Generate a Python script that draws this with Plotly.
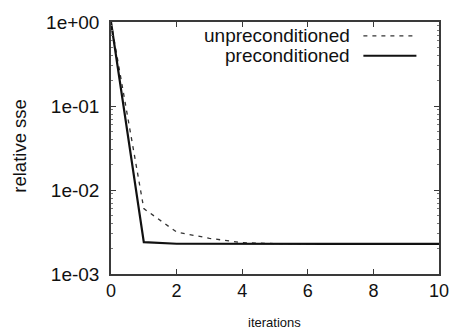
import plotly.graph_objects as go

iterations = [0, 1, 2, 3, 4, 5, 6, 7, 8, 9, 10]
unpreconditioned = [1.0, 0.0060, 0.00316, 0.00266, 0.00236, 0.00230, 0.00229, 0.00228, 0.00228, 0.00228, 0.00228]
preconditioned = [1.0, 0.00239, 0.00229, 0.00228, 0.00228, 0.00228, 0.00228, 0.00228, 0.00228, 0.00228, 0.00228]
ytick_vals = [1e-3, 1e-2, 1e-1, 1e0]
ytick_text = ["1e-03", "1e-02", "1e-01", "1e+00"]
xtick_vals = [0, 2, 4, 6, 8, 10]

W, H = 461, 331
L, R, T, B = 111, 16, 20, 57
FONT = "Liberation Sans, Arial, Helvetica, sans-serif"
AX = "#3a3a3a"

minor_vals = [m * 10 ** e for e in (-3, -2, -1) for m in range(2, 10)]

fig = go.Figure()
fig.add_trace(go.Scatter(x=iterations, y=unpreconditioned, mode="lines",
                         line=dict(color="#333333", width=1.3, dash="4px,5px"),
                         name="unpreconditioned", showlegend=False))
fig.add_trace(go.Scatter(x=iterations, y=preconditioned, mode="lines",
                         line=dict(color="#111111", width=2.2),
                         name="preconditioned", showlegend=False))

fig.update_layout(
    width=W, height=H,
    margin=dict(l=L, r=R, t=T, b=B),
    paper_bgcolor="white", plot_bgcolor="white",
    font=dict(family=FONT, color="#111111", size=18),
)
fig.update_xaxes(range=[0, 10], tickvals=xtick_vals, ticks="inside", ticklen=5,
                 tickcolor=AX, showline=True, linecolor=AX, linewidth=1.5,
                 mirror="ticks", showgrid=False, zeroline=False,
                 tickfont=dict(size=18, family=FONT))
fig.update_yaxes(type="log", range=[-3, 0], tickvals=ytick_vals, ticktext=ytick_text,
                 ticks="inside", ticklen=5, tickcolor=AX, showline=True,
                 linecolor=AX, linewidth=1.5, mirror="ticks", showgrid=False,
                 zeroline=False, ticklabelstandoff=6,
                 tickfont=dict(size=19, family=FONT),
                 minor=dict(tickvals=minor_vals, ticks="inside", ticklen=2.5,
                            tickcolor="#777777", showgrid=False))

pw, ph = W - L - R, H - T - B
def px(xp):
    return (xp - L) / pw
def py(yp):
    return (H - B - yp) / ph

annotations = [
    dict(text="relative sse", x=px(17), y=py(145), xref="paper", yref="paper",
         textangle=-90, showarrow=False, font=dict(size=18.5, family=FONT),
         xanchor="center", yanchor="middle"),
    dict(text="iterations", x=px(277), y=py(323), xref="paper", yref="paper",
         showarrow=False, font=dict(size=13, family=FONT),
         xanchor="center", yanchor="middle"),
    dict(text="unpreconditioned", x=px(356), y=py(34), xref="paper", yref="paper",
         showarrow=False, font=dict(size=19, family=FONT),
         xanchor="right", yanchor="middle"),
    dict(text="preconditioned", x=px(356), y=py(54), xref="paper", yref="paper",
         showarrow=False, font=dict(size=19, family=FONT),
         xanchor="right", yanchor="middle"),
]
shapes = [
    dict(type="line", xref="paper", yref="paper", x0=px(368), x1=px(422),
         y0=py(34), y1=py(34), line=dict(color="#333333", width=1.3, dash="4px,5px")),
    dict(type="line", xref="paper", yref="paper", x0=px(368), x1=px(422),
         y0=py(54), y1=py(54), line=dict(color="#111111", width=2.2)),
]
fig.update_layout(annotations=annotations, shapes=shapes)

fig.write_html("out.html", config={"displayModeBar": False},
               post_script="document.body.style.margin='0';")
